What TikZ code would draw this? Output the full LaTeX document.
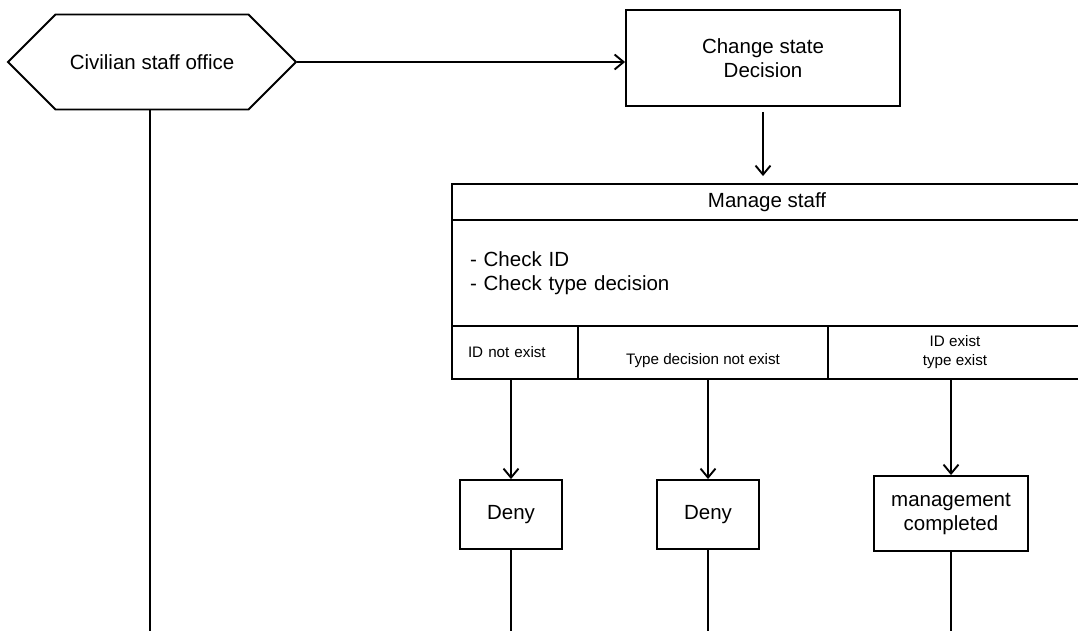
\documentclass[tikz,border=0pt]{standalone}
\usepackage{fontspec}
\setmainfont{Liberation Sans}
\usetikzlibrary{arrows.meta}
\usetikzlibrary{shapes.symbols}

\begin{document}
\begin{tikzpicture}[
		x=1pt, y=-1pt,
		every node/.style = {font=\fontsize{20.5}{24}\selectfont, align=center},
		hex/.style = {signal, signal to=west and east, signal pointer angle=90, draw, line width=1.9pt, minimum width=288pt, minimum height=95pt},
		t/.style = {rectangle, draw, line width=1.9pt},
		c/.style = {rectangle, draw, line width=1.9pt, minimum height=53pt, font=\fontsize{15.2}{19}\selectfont},
		r/.style = {-{Straight Barb[length=9pt,width=15pt]}, line width=1.9pt},
		l/.style = {line width=1.9pt}
		]
		\useasboundingbox (0,0) rectangle (1078,630);
		\clip (0,0) rectangle (1078,630);
		
		%Nodes
		\node[hex]	(office)	at	(152, 62)	{Civilian staff office};
		\node[t, minimum width=274pt, minimum height=96pt]	(change)	at	(763, 58)	{Change state\\Decision};
		\node[t, minimum width=630pt, minimum height=36pt]	(manage)	at	(767, 202)	{Manage staff};
		\node[t, minimum height=106pt, text width=594pt, inner xsep=18pt, align=left]	(checks)	at	(767, 273)	{- Check ID\\- Check type decision};
		\node[c, text width=94pt, inner xsep=16pt, align=left]	(idno)	at	(515, 352.5)	{ID not exist};
		\node[c, minimum width=250pt, text height=27pt]	(typeno)	at	(703, 352.5)	{Type decision not exist};
		\node[c, minimum width=254pt]	(idyes)		at	(955, 352.5)	{ID exist\\type exist};
		\node[t, minimum width=102pt, minimum height=69pt]	(deny1)	at	(511, 514.5)	{Deny};
		\node[t, minimum width=102pt, minimum height=69pt]	(deny2)	at	(708, 514.5)	{Deny};
		\node[t, minimum width=154pt, minimum height=75pt]	(done)	at	(951, 513.5)	{management\\completed};
		\coordinate	(bottom)	at	(0, 640);
		
		%Lines
		\draw[r]	(office.east)	--	(office.east -| change.west);
		\draw[r, shorten <=5pt, shorten >=7pt]	(change.south)	--	(change.south |- manage.north);
		\draw[r]	(idno.south -| deny1.north)		--	(deny1.north);
		\draw[r]	(typeno.south -| deny2.north)	--	(deny2.north);
		\draw[r]	(idyes.south -| done.north)		--	(done.north);
		\draw[l]	([xshift=-2pt]office.south)	--	([xshift=-2pt]office.south |- bottom);
		\draw[l]	(deny1.south)	--	(deny1.south |- bottom);
		\draw[l]	(deny2.south)	--	(deny2.south |- bottom);
		\draw[l]	(done.south)	--	(done.south |- bottom);
	\end{tikzpicture}
\end{document}
